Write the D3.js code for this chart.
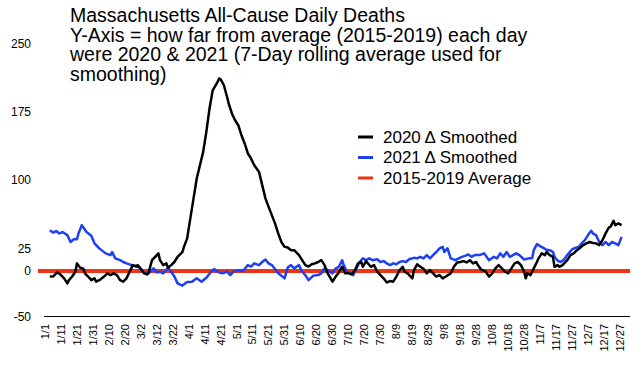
<!DOCTYPE html>
<html>
<head>
<meta charset="utf-8">
<script src="https://cdn.jsdelivr.net/npm/d3@7"></script>
<style>
  body { margin: 0; background: #fff; }
  text { font-family: "Liberation Sans", Arial, sans-serif; fill: #000; }
</style>
</head>
<body>
<div id="chart"></div>
<script>
// 1: DATA (day index 0 = Jan 1, values = deaths above/below the 2015-2019 average)
const titleLines = [
    "Massachusetts All-Cause Daily Deaths",
    "Y-Axis = how far from average (2015-2019) each day",
    "were 2020 & 2021 (7-Day rolling average used for",
    "smoothing)"
];
const dayLabels = ["1/1","1/11","1/21","1/31","2/10","2/20","3/2","3/12","3/22","4/1","4/11","4/21",
    "5/1","5/11","5/21","5/31","6/10","6/20","6/30","7/10","7/20","7/30","8/9","8/19","8/29",
    "9/8","9/18","9/28","10/8","10/18","10/28","11/7","11/17","11/27","12/7","12/17","12/27"];
const yTicks = [-50, 0, 25, 100, 175, 250];

const days2020 = [3,5,7,8,10,12,14,15,17,19,20,22,24,25,27,29,31,32,34,37,39,41,43,45,47,49,51,53,55,57,58,60,
    62,64,65,67,70,71,72,74,76,77,79,81,83,86,87,89,91,93,95,97,99,101,103,105,108,109,110,112,114,115,117,
    119,121,123,125,127,129,131,134,136,138,140,142,144,146,148,150,152,154,156,159,161,163,165,167,169,171,
    173,175,177,180,182,184,186,188,190,192,194,196,198,199,201,204,206,208,210,212,214,216,218,220,222,224,
    225,227,230,231,233,235,237,239,241,243,245,247,249,251,254,256,258,260,262,264,266,268,270,271,273,276,
    278,280,282,284,286,288,290,292,294,296,298,300,301,302,304,306,308,309,311,313,314,316,318,319,321,322,
    324,327,329,331,333,335,337,339,341,343,345,347,349,351,353,354,356,357,359,361];
const delta2020 = [-6,-6,-2.5,-1.5,-4.4,-8,-13.5,-10,-6,-0.7,8.5,3.6,2.5,-2.5,-6,-10,-8,-11.7,-10,-6,-2.5,-4.4,
    -2.5,-4.4,-10,-11.7,-8,-0.7,6.6,5,6.6,2.5,-2.5,-3.6,-0.7,12,17.6,19.5,12,6.6,8.5,3.6,6.6,10,15.7,21,26.7,
    36,58,80,102,116.6,131,153,179,199,208,212,211,204.6,191.7,184.5,173.5,166,160.6,149.6,140.5,129.5,124,
    116.6,109,94.6,80,70.7,61.6,52.5,41.5,32,26.7,26,23,23,17.6,12,6.6,5,7.5,8.5,10,12,6.6,-2.5,-11.7,-6,-1.5,
    4.7,-2.5,-2.5,-3.6,1,8.5,10,4.7,11,4.7,6.6,-0.7,-4.4,-8,-12.5,-11,-11.7,-6,1,4.7,-0.7,-2.5,-8,1,7.4,4.7,
    2.5,-2.5,1,-2.5,-6,-4.4,-8,-6,-2.5,4.7,9.5,10,11,9.5,12,8.5,10,6.6,1.8,-0.7,-6,-2.5,3,6.6,3,-0.7,-2.5,3,
    8.5,10,6.6,-0.7,-8,-2.5,-4.4,3,10,14,19.5,17.6,21,17.6,15.7,4.7,6.6,4.7,6.6,12,17.6,19.5,23,25.5,28.6,
    30.5,32,31,30.5,28.6,34,41.5,48,48.6,55.3,50.6,52.5,50.6];

const days2021 = [3,5,7,9,11,14,16,18,20,21,23,26,29,31,34,38,41,42,44,47,49,51,53,55,57,59,62,64,66,68,70,72,
    74,77,79,81,83,86,89,92,95,98,101,104,106,108,111,114,116,118,121,124,127,129,131,134,136,138,140,142,144,
    146,148,150,152,154,156,159,161,163,165,168,171,173,175,177,180,182,184,186,187,189,191,193,195,197,199,
    201,203,205,208,210,212,214,216,218,220,222,224,226,228,231,233,235,237,239,241,243,245,247,249,250,252,
    254,257,259,261,263,265,267,269,272,275,278,281,283,285,287,289,291,293,295,297,300,303,305,306,308,310,
    312,314,316,318,319,321,323,325,327,330,332,334,336,338,340,342,343,345,347,349,351,353,355,357,359,361];
const delta2021 = [45,42.5,44,41.5,43,39.6,32,35,35,41.5,50.6,43,39,30.5,25,19.5,17.6,21,14,12,10,8.5,7.4,5.8,
    5.8,3.7,-1.5,-3.6,-0.7,3,-1.5,-0.7,-2.5,3.7,-0.7,-6,-13.5,-16,-12,-11.7,-8,-11.7,-7.3,-0.7,2.2,-0.7,-2.5,
    -0.7,-4.4,-0.7,1,0,6.6,5,8.5,6.6,10,12.8,8.5,6.6,2.2,-2.5,-5,-8,4,6.6,3,6.6,-0.7,-4.4,-10,-5,-4.4,-2.5,3,
    1,-2.5,3,4.7,12,6.6,-0.7,-2.5,-4.4,3,10,14,12,14,12,13,10,11,8.5,6.6,8.5,7.5,10,11,10,13,14.6,14,15.7,14,
    17.6,14,17.6,21,25,26.7,21,25,14,12,14,15.7,16.8,18.3,15.7,17.6,17.6,19.5,12,15.7,14,19.5,15.7,21,15.7,
    17.6,19.5,17.6,12.8,14,14,23,29.7,27.5,25.5,23.5,23,21,15.7,11.3,10,12.8,17.6,24,25.5,26.5,30.5,34,39.6,
    44.3,41.5,39.6,32,28.6,32,28.6,32,30.5,28.6,37.7];

const series = [
    { name: "2020 \u0394 Smoothed", color: "#000000", days: days2020, values: delta2020 },
    { name: "2021 \u0394 Smoothed", color: "#1f3ff2", days: days2021, values: delta2021 }
];
const avgName = "2015-2019 Average";
const avgColor = "#ec3416";

// 2: SVG
const W = 643, H = 368;
const svg = d3.select("#chart").append("svg")
    .attr("width", W).attr("height", H);
svg.append("rect").attr("width", W).attr("height", H).attr("fill", "#fff");

// 3: SCALES
const xScale = d3.scaleLinear().domain([0, 360]).range([45, 620]);
const yScale = d3.scaleLinear().domain([-50, 250]).range([316.5, 44]);

// 4: AXES
// x axis line at the bottom (-50)
svg.append("line")
    .attr("x1", xScale(-0.6)).attr("x2", xScale(366.3))
    .attr("y1", yScale(-50)).attr("y2", yScale(-50))
    .attr("stroke", "#000").attr("stroke-width", 1);

svg.selectAll(".xlab")
    .data(dayLabels)
    .enter().append("text")
    .attr("class", "xlab")
    .attr("transform", (d, i) => `translate(${xScale(i * 10)},324) rotate(-90)`)
    .attr("text-anchor", "end")
    .attr("dy", "0.35em")
    .style("font-size", "11px")
    .text(d => d);

svg.selectAll(".ylab")
    .data(yTicks)
    .enter().append("text")
    .attr("class", "ylab")
    .attr("x", 31)
    .attr("y", d => yScale(d))
    .attr("dy", "0.35em")
    .attr("text-anchor", "end")
    .style("font-size", "12px")
    .text(d => d);

// 5: LINES
svg.append("line")
    .attr("x1", xScale(-4.4)).attr("x2", xScale(366.3))
    .attr("y1", yScale(0)).attr("y2", yScale(0))
    .attr("stroke", avgColor).attr("stroke-width", 4);

const line = d3.line()
    .x(d => xScale(d[0]))
    .y(d => yScale(d[1]));

series.slice().reverse().forEach(s => {
    svg.append("path")
        .datum(s.days.map((d, i) => [d, s.values[i]]))
        .attr("d", line)
        .attr("fill", "none")
        .attr("stroke", s.color)
        .attr("stroke-width", 2.5)
        .attr("stroke-linejoin", "round");
});

// 6: TITLE + LEGEND
svg.selectAll(".title")
    .data(titleLines)
    .enter().append("text")
    .attr("class", "title")
    .attr("x", 70)
    .attr("y", (d, i) => 22 + i * 19.6)
    .style("font-size", "19.5px")
    .text(d => d);

const legendItems = series.map(s => ({ name: s.name, color: s.color }))
    .concat([{ name: avgName, color: avgColor }]);
const legend = svg.append("g").attr("transform", "translate(358,137)");
legendItems.forEach((d, i) => {
    legend.append("line")
        .attr("x1", 0).attr("x2", 15)
        .attr("y1", i * 20.5).attr("y2", i * 20.5)
        .attr("stroke", d.color).attr("stroke-width", 3);
    legend.append("text")
        .attr("x", 25).attr("y", i * 20.5)
        .attr("dy", "0.35em")
        .style("font-size", "17px")
        .text(d.name);
});
</script>
</body>
</html>
